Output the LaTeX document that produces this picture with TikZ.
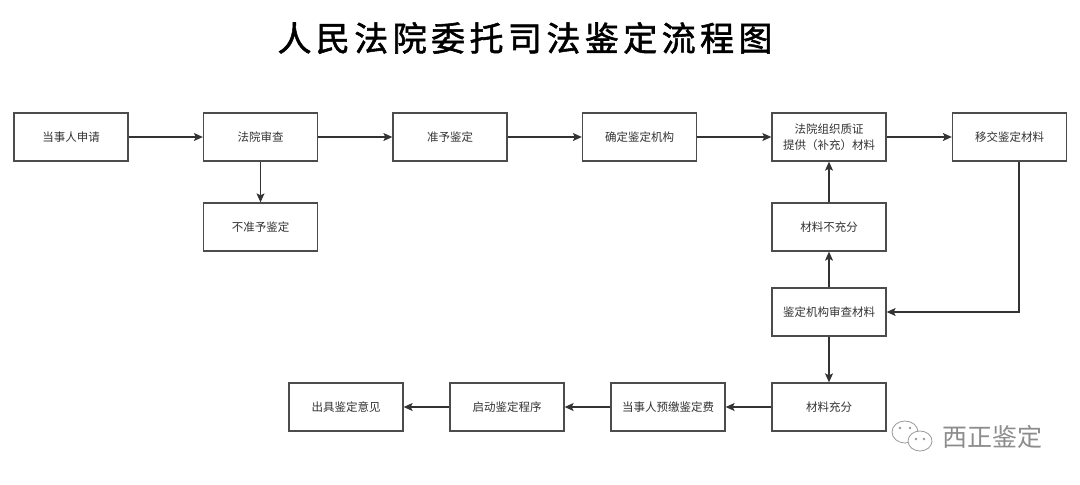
\documentclass[tikz,border=0pt]{standalone}
\usepackage{fontspec}
\newfontfamily\cjk{Noto Sans CJK SC}
\newfontfamily\cjktitle[LetterSpace=13,FakeBold=1.6]{Noto Sans CJK SC}
\usetikzlibrary{arrows.meta,positioning}

\begin{document}
\begin{tikzpicture}[->,>={Stealth[length=9pt,width=8pt,inset=2pt]},line width=1.1pt,
		draw=black!80, node distance=189.5pt]
		\tikzstyle{step box}=[rectangle,draw=black!70,fill=white,text=black!80,
			line width=1.3pt,minimum width=114pt,minimum height=48pt,align=center,
			font=\cjk\fontsize{11.5}{16}\selectfont]
		\useasboundingbox (0,0) rectangle (1080pt,-485pt);
		
		\node[font=\cjktitle\fontsize{34}{40}\selectfont] (title) at (525pt,-38pt) {人民法院委托司法鉴定流程图};
		
		\node[step box] (1) at (71pt,-137pt)				{当事人申请};
		\node[step box] (2) [right of=1] 					{法院审查};
		\node[step box] (3) [right of=2] 					{准予鉴定};
		\node[step box] (4) [right of=3] 					{确定鉴定机构};
		\node[step box] (5) [right of=4] 					{法院组织质证\\提供（补充）材料};
		\node[step box] (6) [right of=5, node distance=180.5pt] {移交鉴定材料};
		\node[step box] (7) [below of=2, node distance=90pt]	{不准予鉴定};
		\node[step box] (8) [below of=5, node distance=90pt]	{材料不充分};
		\node[step box] (9) [below of=8, node distance=85pt]	{鉴定机构审查材料};
		\node[step box] (10) [below of=9, node distance=95pt]	{材料充分};
		\node[step box] (11) [left of=10, node distance=161pt]	{当事人预缴鉴定费};
		\node[step box] (12) [left of=11, node distance=161pt]	{启动鉴定程序};
		\node[step box] (13) [left of=12, node distance=161pt]	{出具鉴定意见};
		\coordinate (turn) at (1019pt,-312pt);
		
		\path	(1)	edge (2)
				(2)	edge (3)
					edge (7)
				(3)	edge (4)
				(4)	edge (5)
				(5)	edge (6)
				(9)	edge (8)
					edge (10)
				(8)	edge (5)
				(10) edge (11)
				(11) edge (12)
				(12) edge (13);
		\draw (6.south -| turn) |- (9.east);
		
		% watermark
		\begin{scope}[-,draw=black!40,line width=0.8pt]
			\draw[fill=white] (905pt,-432pt) ellipse (13pt and 11pt);
			\draw[fill=white] (920pt,-441pt) ellipse (12pt and 10pt);
			\fill[black!40] (900pt,-428pt) circle (1.3pt) (910pt,-428pt) circle (1.3pt)
				(916pt,-439pt) circle (1.3pt) (924pt,-439pt) circle (1.3pt);
		\end{scope}
		\node[text=black!45,font=\cjk\fontsize{25}{28}\selectfont] (mark) at (992pt,-437pt) {西正鉴定};
		\end{tikzpicture}
\end{document}
